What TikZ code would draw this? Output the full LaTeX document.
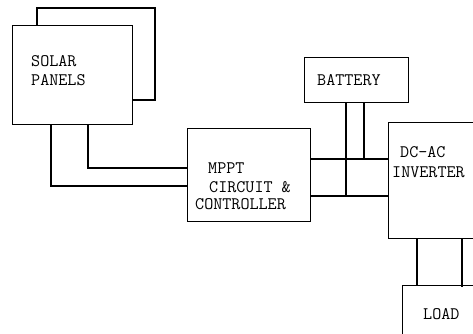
\documentclass[tikz,border=0pt]{standalone}
\begin{document}
\begin{tikzpicture}[x=1pt,y=-1pt,
  wire/.style={line width=1.1pt,black},
  box/.style={draw,line width=1.1pt,fill=white,anchor=north west,inner sep=0pt},
  lbl/.style={anchor=base west,inner sep=0pt,font=\ttfamily\fontsize{17.6}{19}\selectfont}]
\useasboundingbox (0,0) rectangle (473,334);
\clip (0,0) rectangle (473,334);
% back solar panel
\coordinate (bp1) at (37,25);
\coordinate (bp2) at (155,8);
\coordinate (bp3) at (132,100);
\draw[wire] (bp1) |- (bp2) |- (bp3);
% boxes
\node[box,minimum width=120pt,minimum height=99pt] (solar) at (12,25) {};
\node[box,minimum width=123pt,minimum height=93pt] (mppt) at (187,128) {};
\node[box,minimum width=104pt,minimum height=45pt] (batt) at (304,57) {};
\node[box,minimum width=100pt,minimum height=116pt] (inv) at (388,122) {};
\node[box,minimum width=90pt,minimum height=60pt] (load) at (402,285) {};
% labels
\node[lbl] (t1) at (31,67) {SOLAR};
\node[lbl] (t2) at (31,85) {PANELS};
\node[lbl] (t3) at (208,173) {MPPT};
\node[lbl] (t4) at (209,192) {CIRCUIT \&};
\node[lbl] (t5) at (195,209) {CONTROLLER};
\node[lbl] (t6) at (317,85) {BATTERY};
\node[lbl] (t7) at (400,157) {DC-AC};
\node[lbl] (t8) at (392,177) {INVERTER};
\node[lbl] (t9) at (423,319) {LOAD};
% solar to mppt
\draw[wire] (solar.south -| 51,0) |- (mppt.west |- 0,186);
\draw[wire] (solar.south -| 88,0) |- (mppt.west |- 0,168);
% mppt to inverter
\draw[wire] (mppt.east |- 0,159) -- (inv.west |- 0,159);
\draw[wire] (mppt.east |- 0,196) -- (inv.west |- 0,196);
% battery
\draw[wire] (batt.south -| 346,0) -- (346,196);
\draw[wire] (batt.south -| 364,0) -- (364,159);
% inverter to load
\draw[wire] (inv.south -| 417,0) -- (load.north -| 417,0);
\draw[wire] (inv.south -| 462,0) -- (462,287);
\end{tikzpicture}
\end{document}
